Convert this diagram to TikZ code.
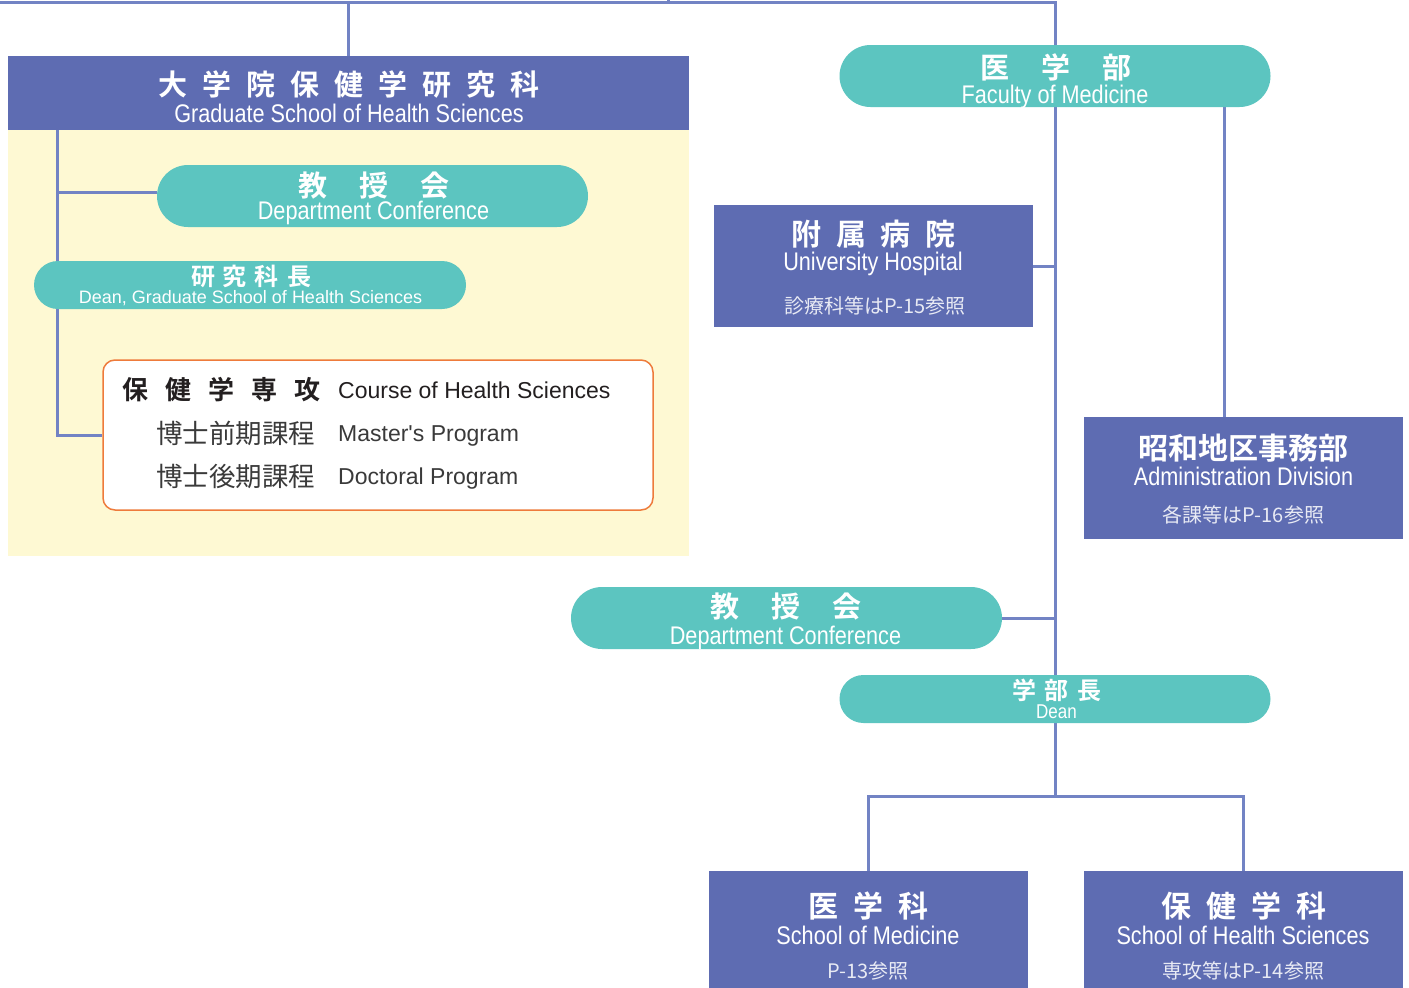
\documentclass[tikz,border=0pt]{standalone}
\usepackage{fontspec}
\setmainfont{Liberation Sans}
\newfontfamily\jp{Noto Sans CJK JP}[BoldFont={Noto Sans CJK JP Bold}]
\newfontfamily\cond{Liberation Sans}[FakeStretch=0.85]
\newfontfamily\lat{Liberation Sans}
\definecolor{boxblue}{HTML}{5E6CB2}
\definecolor{tealc}{HTML}{5CC5C0}
\definecolor{lineblue}{HTML}{7283C4}
\definecolor{yellowbg}{HTML}{FEF9D3}
\definecolor{orangeb}{HTML}{EE7B3B}
\definecolor{darktext}{HTML}{231F20}
\definecolor{greytext}{HTML}{3A3A3A}
\definecolor{refwhite}{HTML}{E8EAF4}
\makeatletter
\newcommand\spc[2]{\def\spcsep{}\@tfor\spctok:=#2\do{\spcsep\spctok\def\spcsep{\hspace*{#1}}}}
\makeatother
\pgfdeclarelayer{bg}
\pgfsetlayers{bg,main}
\tikzset{
  conn/.style={draw=lineblue, line width=3pt},
  bluebox/.style={fill=boxblue, draw=none, inner sep=0pt},
  pill/.style={fill=tealc, draw=none, inner sep=0pt, rounded corners=#1},
  lbl/.style={inner sep=0pt, text=white},
  dk/.style={inner sep=0pt, text=darktext},
  gr/.style={inner sep=0pt, text=greytext},
  jbig/.style={font=\jp\bfseries\fontsize{29}{30}\selectfont},
  ecnd/.style={font=\cond\fontsize{25.5}{26}\selectfont},
  jref/.style={font=\jp\fontsize{20}{21}\selectfont, text=refwhite},
}
\begin{document}
\begin{tikzpicture}[x=1pt,y=-1pt]
\useasboundingbox (0,0) rectangle (1409,988);
% ---------- graduate school ----------
\node[bluebox, minimum width=681pt, minimum height=74pt] (grad) at (348.5,93) {};
\node[lbl, jbig] (gradJ) at (349,85) {\spc{15pt}{大学院保健学研究科}};
\node[lbl, ecnd, anchor=base] (gradE) at (349,122) {Graduate School of Health Sciences};
\node[pill=31pt, minimum width=431pt, minimum height=62pt] (conf1) at (372.5,196) {};
\node[lbl, jbig] (conf1J) at (374,186) {\spc{32pt}{教授会}};
\node[lbl, ecnd, anchor=base] (conf1E) at (373.5,219) {Department Conference};
\node[pill=24pt, minimum width=432pt, minimum height=48pt] (gdean) at (250,285) {};
\node[lbl, font=\jp\bfseries\fontsize{24}{25}\selectfont] (gdeanJ) at (251,276) {\spc{8pt}{研究科長}};
\node[lbl, font=\lat\fontsize{18}{19}\selectfont, anchor=base] (gdeanE) at (250.5,303) {Dean, Graduate School of Health Sciences};
\node[fill=white, draw=orangeb, line width=1.5pt, rounded corners=12pt, minimum width=550pt, minimum height=150pt, inner sep=0pt] (course) at (378,435) {};
\node[dk, anchor=west, font=\jp\bfseries\fontsize{26}{27}\selectfont] (cJ) at (122,390) {\spc{17pt}{保健学専攻}};
\node[dk, anchor=base west, font=\lat\fontsize{23}{24}\selectfont] (cE) at (338,398) {Course of Health Sciences};
\node[gr, anchor=west, font=\jp\fontsize{26.5}{27}\selectfont] (mJ) at (156,433) {博士前期課程};
\node[gr, anchor=base west, font=\lat\fontsize{23}{24}\selectfont] (mE) at (338,441) {Master's Program};
\node[gr, anchor=west, font=\jp\fontsize{26.5}{27}\selectfont] (dJ) at (156,476) {博士後期課程};
\node[gr, anchor=base west, font=\lat\fontsize{23}{24}\selectfont] (dE) at (338,484) {Doctoral Program};
% ---------- faculty of medicine ----------
\node[pill=31pt, minimum width=431pt, minimum height=62pt] (fac) at (1055,76) {};
\node[lbl, jbig] (facJ) at (1056,67) {\spc{32pt}{医学部}};
\node[lbl, ecnd, anchor=base] (facE) at (1055,103) {Faculty of Medicine};
\node[bluebox, minimum width=319pt, minimum height=122pt] (hosp) at (873.5,266) {};
\node[lbl, font=\jp\bfseries\fontsize{30}{31}\selectfont] (hospJ) at (873.5,234) {\spc{14.5pt}{附属病院}};
\node[lbl, ecnd, anchor=base] (hospE) at (873,270) {University Hospital};
\node[jref] (hospR) at (875,306) {診療科等はP-15参照};
\node[bluebox, minimum width=319pt, minimum height=122pt] (admin) at (1243.5,478) {};
\node[lbl, font=\jp\bfseries\fontsize{30}{31}\selectfont] (adminJ) at (1243.5,448) {昭和地区事務部};
\node[lbl, ecnd, anchor=base] (adminE) at (1243.5,485) {Administration Division};
\node[jref] (adminR) at (1243.5,515) {各課等はP-16参照};
\node[pill=31pt, minimum width=431pt, minimum height=62pt] (conf2) at (786.5,618) {};
\node[lbl, jbig] (conf2J) at (786,607) {\spc{32pt}{教授会}};
\node[lbl, ecnd, anchor=base] (conf2E) at (785.5,644) {Department Conference};
\node[pill=24pt, minimum width=431pt, minimum height=48pt] (dean) at (1055,699) {};
\node[lbl, font=\jp\bfseries\fontsize{24}{25}\selectfont] (deanJ) at (1056.5,690) {\spc{8.5pt}{学部長}};
\node[lbl, font=\cond\fontsize{20}{21}\selectfont, anchor=base] (deanE) at (1056.5,718) {Dean};
\node[bluebox, minimum width=319pt, minimum height=125pt] (med) at (868.5,933.5) {};
\node[lbl, font=\jp\bfseries\fontsize{30}{31}\selectfont] (medJ) at (868.5,906) {\spc{14.7pt}{医学科}};
\node[lbl, ecnd, anchor=base] (medE) at (868,944) {School of Medicine};
\node[jref] (medR) at (868,971) {P-13参照};
\node[bluebox, minimum width=319pt, minimum height=125pt] (hs) at (1243.5,933.5) {};
\node[lbl, font=\jp\bfseries\fontsize{30}{31}\selectfont] (hsJ) at (1244,906) {\spc{14.8pt}{保健学科}};
\node[lbl, ecnd, anchor=base] (hsE) at (1243,944) {School of Health Sciences};
\node[jref] (hsR) at (1243.5,971) {専攻等はP-14参照};
% ---------- coordinates ----------
\coordinate (topL) at (0,2);
\coordinate (topTick) at (668,0);
\coordinate (gv) at (57,130);
\coordinate (admX) at (1224,417);
\coordinate (split) at (1055,796);
\coordinate (c1in) at ([yshift=4pt]conf1.west);
% ---------- background and connectors ----------
\begin{pgfonlayer}{bg}
\fill[white] (0,0) rectangle (1409,988);
\fill[yellowbg] (8,130) rectangle (689,556);
\draw[conn] (topL) -| (fac.north);
\draw[conn] (grad.north) -- (grad.north |- topL);
\draw[conn] (topTick) -- (topTick |- topL);
\draw[conn] (gv) |- (course.west);
\draw[conn] (gv |- c1in) -- (c1in);
\draw[conn] (fac.south) -- (dean.north);
\draw[conn] (hosp.east) -- (hosp.east -| fac.south);
\draw[conn] (conf2.east) -- (conf2.east -| fac.south);
\draw[conn] (admX |- fac.south) -- (admX);
\draw[conn] (dean.south) -- (split);
\draw[conn] (med.north) |- (split) -| (hs.north);
\end{pgfonlayer}
\end{tikzpicture}
\end{document}
